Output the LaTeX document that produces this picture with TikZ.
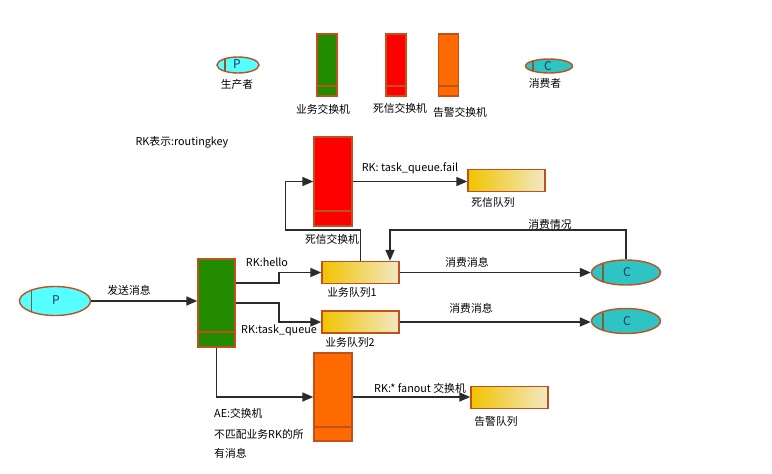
\documentclass[tikz,border=0pt]{standalone}
\usepackage{fontspec}
\setmainfont{Noto Sans CJK SC}
\usetikzlibrary{shapes.geometric,arrows.meta}
\definecolor{bord}{HTML}{C0501E}
\definecolor{pcyan}{HTML}{55FFFF}
\definecolor{cteal}{HTML}{2EC4C4}
\definecolor{ggreen}{HTML}{228B00}
\definecolor{rred}{HTML}{FF0000}
\definecolor{oorange}{HTML}{FF6A00}
\definecolor{qgold}{HTML}{F0C400}
\definecolor{qlight}{HTML}{F2E8C4}
\definecolor{conncol}{HTML}{2B2B2B}
\definecolor{sepcol}{HTML}{8A5A2A}
\definecolor{lettercol}{HTML}{1F3A5A}
\tikzset{
  ell/.style={ellipse, draw=bord, line width=1.4pt, inner sep=0pt},
  exch/.style={rectangle, draw=bord, line width=1.4pt, inner sep=0pt},
  queue/.style={rectangle, draw=bord, line width=1.4pt, left color=qgold, right color=qlight, minimum width=77pt, minimum height=22pt, inner sep=0pt},
  conn/.style={draw=conncol, line width=1.7pt, -{Triangle[length=11pt,width=9pt]}},
  sep/.style={draw=bord, line width=1.2pt},
  lbl/.style={font=\fontsize{10.8}{12}\selectfont, inner sep=0pt, text=black},
  letter/.style={font=\fontsize{12}{13}\selectfont, inner sep=0pt, text=lettercol}
}
\begin{document}
\begin{tikzpicture}[x=1pt,y=-1pt]
\useasboundingbox[fill=white] (0,0) rectangle (772,474);
% ---------- legend ----------
\node[ell, fill=pcyan, minimum width=42pt, minimum height=16pt] (lp) at (238,65) {};
\node[letter] (lpt) at (237,64.5) {P};
\draw[sep, draw=sepcol] (225,59) -- (225,71);
\node[lbl] (lpl) at (237,84) {生产者};
\node[exch, fill=ggreen, minimum width=20pt, minimum height=62pt] (lg) at (327,65) {};
\draw[sep] (lg.west |- 0,86) -- (lg.east |- 0,86);
\node[lbl] (lgl) at (323,109) {业务交换机};
\node[exch, fill=rred, minimum width=20pt, minimum height=62pt] (lr) at (396,65) {};
\draw[sep] (lr.west |- 0,86) -- (lr.east |- 0,86);
\node[lbl] (lrl) at (400,108) {死信交换机};
\node[exch, fill=oorange, minimum width=20pt, minimum height=62pt] (lo) at (448.5,65) {};
\draw[sep] (lo.west |- 0,86) -- (lo.east |- 0,86);
\node[lbl] (lol) at (460,112) {告警交换机};
\node[ell, fill=cteal, minimum width=47pt, minimum height=14pt] (lc) at (549,66) {};
\node[letter] (lct) at (548,66) {C};
\draw[sep, draw=sepcol] (533,61) -- (533,71);
\node[lbl] (lcl) at (545,83) {消费者};
\node[lbl] (rk) at (182,142) {RK表示:routingkey};
% ---------- main ----------
\node[ell, fill=pcyan, minimum width=71pt, minimum height=29pt] (p) at (55,301) {};
\node[letter] (pt) at (56,300) {P};
\draw[sep, draw=sepcol] (31.5,290) -- (31.5,312);
\node[exch, fill=ggreen, minimum width=37pt, minimum height=88pt] (g) at (216.5,303) {};
\draw[sep] (g.west |- 0,332) -- (g.east |- 0,332);
\node[exch, fill=rred, minimum width=38pt, minimum height=89pt] (r) at (333,181.5) {};
\draw[sep] (r.west |- 0,211) -- (r.east |- 0,211);
\node[exch, fill=oorange, minimum width=38pt, minimum height=88pt] (o) at (333,397) {};
\draw[sep] (o.west |- 0,427) -- (o.east |- 0,427);
\node[queue] (q1) at (360.5,272.5) {};
\node[queue] (q2) at (360.5,322) {};
\node[queue] (dq) at (506.5,180.5) {};
\node[queue] (aq) at (509.5,397.5) {};
\node[ell, fill=cteal, minimum width=69pt, minimum height=25pt] (c1) at (626,272.5) {};
\node[letter] (c1t) at (627,272.5) {C};
\draw[sep, draw=sepcol] (603,264) -- (603,282);
\node[ell, fill=cteal, minimum width=69pt, minimum height=25pt] (c2) at (626,321) {};
\node[letter] (c2t) at (627,321) {C};
\draw[sep, draw=sepcol] (603,312.5) -- (603,330);
% connectors
\draw[conn] (p.east) -- (p.east -| g.west);
\draw[conn] ([yshift=20pt]g.east) -- ++(43,0) |- (q1.west);
\draw[conn] (g.east) -- ++(43,0) |- (q2.west);
\draw[conn] (g.south) |- (o.west);
\draw[conn] (o.east) -- (o.east -| aq.west);
\draw[conn] (r.east) -- (r.east -| dq.west);
\draw[conn] (q1.north) -- ++(0,-31) -- ++(-75,0) |- (r.west);
\draw[conn] (c1.north) |- ([xshift=29.5pt,yshift=31pt]q1.north) -- ([xshift=29.5pt]q1.north);
\draw[conn] (q1.east) -- (q1.east -| c1.west);
\draw[conn] (q2.east) -- (q2.east -| c2.west);
% labels
\node[lbl] (l1) at (410,168) {RK: task\_queue.fail};
\node[lbl] (l2) at (493,202) {死信队列};
\node[lbl] (l3) at (332,239) {死信交换机};
\node[lbl] (l4) at (550,224) {消费情况};
\node[lbl] (l5) at (267,262) {RK:hello};
\node[lbl] (l6) at (352,292) {业务队列1};
\node[lbl] (l7) at (279,330) {RK:task\_queue};
\node[lbl] (l8) at (350,342) {业务队列2};
\node[lbl] (l9) at (129,290) {发送消息};
\node[lbl] (l10) at (467,262) {消费消息};
\node[lbl] (l11) at (471,308) {消费消息};
\node[lbl] (l12) at (420,388) {RK:* fanout 交换机};
\node[lbl] (l13) at (496,421) {告警队列};
\node[lbl, anchor=west] (l14) at (214,413) {AE:交换机};
\node[lbl, anchor=west] (l15) at (214,434) {不匹配业务RK的所};
\node[lbl, anchor=west] (l16) at (214,453) {有消息};
\end{tikzpicture}
\end{document}
